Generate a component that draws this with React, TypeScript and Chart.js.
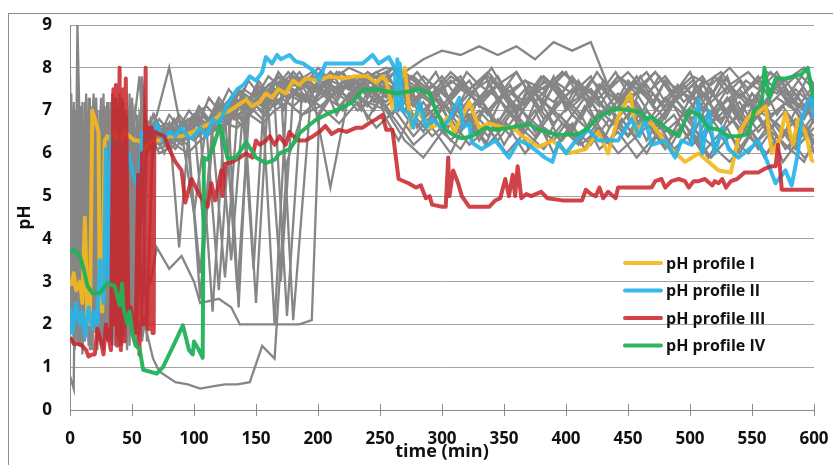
import React, { useEffect, useRef } from "react";
import { Chart, registerables } from "chart.js";

Chart.register(...registerables);

// ---------- time grids for the grey (individual) profiles ----------
const TE = [0, 3, 6, 9, 12, 15, 18, 21, 24, 27, 30, 33, 36, 39, 42, 45, 48, 52, 56, 60, 65, 70];
const TL = [80, 90, 100, 110, 120, 130, 140, 150, 160, 170, 180, 195, 210, 225, 240, 255, 270, 285, 300, 315, 330, 345, 360, 375, 390, 405, 420, 435, 450, 465, 480, 495, 510, 525, 540, 555, 570, 585, 600];
const TE2 = [1, 4, 7, 10, 13, 16, 19, 22, 25, 28, 31, 34, 37, 40, 43, 46, 50, 54, 58, 62, 67, 72];
const TL2 = [85, 95, 105, 115, 125, 135, 145, 155, 165, 175, 187, 202, 217, 232, 247, 262, 277, 292, 307, 322, 337, 352, 367, 382, 397, 412, 427, 442, 457, 472, 487, 502, 517, 532, 547, 562, 577, 592, 600];
const TL5 = [80, 90, 100, 105, 120, 130, 137, 150, 160, 170, 185, 195, 201, 215, 240, 255, 270, 285, 300, 315, 330, 345, 360, 375, 390, 405, 420, 435, 450, 465, 480, 495, 510, 525, 540, 555, 570, 585, 600];
const TM = [60, 68, 76, 84, 92, 100, 108, 116, 124, 132, 140, 148, 156, 164, 172, 180, 190, 200, 210, 220, 230, 240, 250, 260, 270, 280, 290, 300, 310, 320, 330, 340, 350, 360, 370, 380, 390, 400, 410, 420, 430, 440, 450, 460, 470, 480, 490, 500, 510, 520, 530, 540, 550, 560, 570, 580, 590, 600];
const TM2 = [64, 72, 80, 88, 96, 104, 112, 120, 128, 136, 144, 152, 160, 168, 176, 185, 195, 205, 215, 225, 235, 245, 255, 265, 275, 285, 295, 305, 315, 325, 335, 345, 355, 365, 375, 385, 395, 405, 415, 425, 435, 445, 455, 465, 475, 485, 495, 505, 515, 525, 535, 545, 555, 565, 575, 585, 595, 600];

const G1 = TE.concat(TL);
const G2 = TE2.concat(TL2);
const G5 = TE.concat(TL5);

// ---------- grey profiles (pH) ----------
const g1 = [7.8, 1.5, 6.5, 2.0, 7.2, 1.6, 6.8, 2.2, 7.0, 1.8, 6.6, 3.0, 7.3, 1.7, 6.9, 2.4, 7.1, 5.5, 6.6, 6.2, 6.8, 6.3,
  6.5, 6.2, 6.7, 6.5, 7.1, 6.9, 7.4, 7.2, 7.6, 7.4, 7.8, 7.5, 7.9, 7.6, 7.8, 7.3, 7.7, 7.0, 7.5, 7.8, 7.1, 7.6, 7.9, 7.2, 7.7, 7.4, 7.8, 7.0, 7.5, 7.9, 7.2, 7.6, 7.0, 7.7, 7.3, 7.8, 6.9, 7.5, 7.1];
const g2 = [6.2, 2.3, 7.1, 1.4, 6.4, 2.8, 7.3, 1.6, 5.8, 2.0, 7.0, 1.5, 6.7, 2.6, 7.2, 1.9, 6.5, 2.2, 7.6, 6.0, 6.4, 6.6,
  6.3, 6.6, 6.4, 6.9, 6.7, 7.2, 7.0, 7.5, 7.3, 7.7, 7.5, 7.9, 7.4, 7.8, 7.6, 7.9, 7.2, 7.6, 6.9, 7.4, 7.7, 7.0, 7.5, 6.8, 7.3, 7.6, 6.9, 7.4, 7.1, 6.6, 7.3, 6.8, 7.5, 6.7, 7.2, 6.5, 7.0, 6.4, 6.8];
const g3 = [0.8, 0.5, 9.0, 5.0, 6.2, 1.9, 7.0, 2.5, 6.3, 1.4, 7.2, 2.1, 6.8, 1.6, 5.9, 2.8, 7.4, 1.8, 6.9, 6.4, 6.1, 6.5,
  6.6, 6.3, 6.8, 6.6, 7.0, 7.3, 7.1, 7.5, 7.2, 7.6, 7.9, 7.4, 7.7, 7.5, 7.9, 7.6, 7.3, 7.8, 7.4, 7.0, 7.6, 7.3, 6.8, 7.4, 7.7, 7.1, 7.5, 6.9, 7.7, 7.3, 6.8, 7.6, 7.1, 6.7, 7.4, 7.0, 7.6, 7.2, 6.9];
const g4 = [1.7, 1.5, 3.2, 1.6, 6.0, 1.8, 5.2, 1.4, 6.5, 2.6, 7.0, 1.6, 4.8, 1.5, 6.2, 1.7, 3.5, 1.6, 2.2, 1.8, 1.2, 0.9,
  0.65, 0.6, 0.5, 0.55, 0.6, 0.6, 0.65, 1.5, 1.2, 5.8, 6.9, 7.3, 7.6, 7.4, 7.8, 7.5, 7.1, 7.6, 7.3, 7.7, 7.0, 7.5, 7.2, 7.8, 7.4, 6.9, 7.6, 7.2, 7.8, 7.0, 7.5, 7.3, 6.9, 7.6, 7.1, 7.7, 7.3, 7.0, 7.4];
const g5 = [2.0, 6.8, 1.6, 7.1, 2.4, 6.5, 1.5, 7.3, 2.9, 6.0, 1.7, 7.1, 2.3, 6.6, 1.5, 7.0, 2.0, 6.3, 3.4, 2.7, 3.0, 3.8,
  3.3, 3.6, 3.0, 2.5, 2.6, 2.4, 2.0, 2.0, 2.0, 2.0, 2.0, 2.1, 6.9, 7.5, 7.7, 7.4, 7.0, 7.5, 7.2, 6.8, 7.3, 7.6, 7.0, 7.4, 6.7, 7.2, 7.5, 6.9, 7.3, 6.6, 7.1, 7.4, 6.8, 7.2, 6.5, 7.0, 6.7, 6.3, 6.9];
const g6 = [5.5, 1.9, 7.0, 2.2, 6.1, 1.5, 7.4, 2.6, 6.8, 1.7, 7.2, 3.4, 5.9, 1.8, 7.0, 2.3, 6.4, 2.0, 5.0, 6.3, 6.5, 6.2,
  6.4, 6.2, 3.2, 6.7, 6.9, 2.8, 7.2, 7.0, 7.4, 7.6, 7.3, 7.7, 7.5, 7.8, 7.4, 7.9, 7.6, 7.2, 7.7, 7.4, 6.9, 7.5, 7.1, 7.7, 7.3, 6.8, 7.6, 7.0, 7.4, 6.7, 7.2, 7.6, 6.9, 7.3, 6.6, 7.1, 7.5, 6.8, 7.2];
const g7 = [3.0, 7.2, 1.8, 6.6, 2.6, 7.0, 1.4, 6.2, 2.0, 7.4, 1.6, 6.9, 2.7, 7.1, 1.9, 6.3, 1.5, 6.8, 7.8, 6.1, 6.5, 6.9,
  8.0, 6.5, 4.6, 6.7, 7.1, 6.8, 7.3, 2.5, 7.5, 7.7, 7.4, 7.8, 7.5, 7.2, 7.7, 7.4, 7.9, 7.5, 7.1, 7.6, 7.3, 7.8, 7.0, 7.5, 7.2, 7.7, 7.4, 6.9, 7.3, 7.6, 7.0, 7.4, 7.8, 7.1, 7.5, 6.9, 7.3, 7.0, 7.6];
const g8 = [7.4, 2.8, 6.3, 1.3, 6.9, 2.1, 5.6, 1.7, 7.1, 2.4, 6.4, 1.6, 7.3, 2.0, 6.0, 1.4, 6.7, 2.5, 6.2, 1.6, 6.6, 6.3,
  6.5, 6.8, 6.6, 2.3, 7.0, 7.2, 7.0, 7.3, 2.0, 7.5, 7.8, 7.5, 7.9, 7.6, 7.8, 8.0, 7.7, 7.3, 7.8, 7.5, 7.9, 7.4, 7.7, 7.2, 7.9, 7.5, 7.1, 7.8, 7.4, 7.9, 7.3, 7.7, 7.2, 7.6, 7.9, 7.4, 7.7, 7.1, 7.5];
const g9 = [4.5, 7.0, 2.2, 6.8, 1.9, 7.3, 2.5, 6.4, 1.6, 6.9, 2.1, 7.2, 1.8, 6.5, 3.2, 7.0, 2.3, 6.6, 6.2, 6.7, 6.3, 6.6,
  6.7, 6.4, 6.9, 7.1, 6.8, 7.2, 7.5, 7.3, 7.6, 7.8, 7.6, 7.9, 7.7, 8.0, 7.8, 8.0, 7.9, 8.2, 8.4, 8.3, 8.5, 8.3, 8.5, 8.2, 8.6, 8.4, 8.6, 7.5, 7.9, 7.4, 7.8, 7.2, 7.6, 7.9, 7.3, 7.7, 7.4, 7.8, 7.2];
const g10 = [2.5, 6.0, 1.6, 7.2, 1.9, 6.6, 2.7, 7.0, 1.5, 6.2, 2.2, 7.4, 1.7, 6.8, 2.4, 5.3, 1.8, 6.9, 2.0, 6.5, 6.2, 6.4,
  6.1, 6.6, 2.6, 6.4, 3.1, 6.9, 7.1, 6.8, 7.2, 2.2, 7.4, 7.1, 7.5, 7.0, 7.3, 6.8, 6.2, 6.6, 6.0, 6.9, 6.4, 7.0, 6.5, 7.2, 6.7, 6.3, 7.0, 6.6, 7.2, 6.5, 6.9, 6.2, 6.7, 7.1, 6.4, 6.8, 6.1, 6.6, 6.3];
const g11 = [6.0, 2.0, 7.3, 1.5, 6.7, 2.3, 7.0, 1.8, 6.4, 2.9, 7.2, 1.6, 6.1, 2.2, 7.3, 1.9, 6.8, 2.6, 6.4, 6.8, 6.2, 6.5,
  6.3, 6.7, 6.5, 6.6, 6.9, 3.5, 7.2, 7.4, 7.2, 7.6, 2.1, 7.6, 7.3, 7.8, 7.5, 7.1, 7.5, 6.8, 7.2, 6.6, 7.0, 6.5, 7.1, 6.7, 6.3, 6.9, 6.5, 7.1, 6.4, 6.8, 6.2, 6.7, 6.0, 6.5, 6.9, 6.3, 6.7, 6.1, 6.6];
const g12 = [7.0, 1.6, 6.2, 2.5, 7.4, 1.4, 6.8, 2.0, 7.1, 2.7, 6.0, 1.9, 7.2, 2.2, 6.5, 1.6, 7.0, 2.8, 6.6, 6.4, 6.9, 6.5,
  6.7, 6.3, 6.5, 6.8, 7.0, 6.8, 7.3, 7.1, 7.5, 7.3, 7.6, 7.4, 7.1, 7.6, 7.2, 7.5, 6.9, 6.4, 6.8, 6.2, 6.6, 6.0, 6.5, 6.1, 6.7, 6.2, 6.6, 6.0, 6.4, 6.8, 6.1, 6.5, 5.9, 6.4, 6.0, 6.6, 6.2, 5.8, 6.3];
const g13 = [1.8, 6.4, 2.4, 7.0, 1.6, 6.8, 2.1, 7.3, 1.7, 6.5, 2.5, 6.9, 1.5, 7.0, 2.0, 6.2, 2.9, 7.0, 6.5, 6.2, 6.4, 6.1,
  6.2, 6.5, 6.3, 6.6, 2.8, 7.0, 6.8, 7.2, 7.0, 7.3, 7.1, 7.5, 5.2, 7.4, 7.2, 7.0, 6.3, 5.9, 6.5, 6.1, 6.8, 6.3, 6.9, 6.4, 7.0, 6.6, 6.2, 6.8, 6.4, 7.0, 6.5, 6.9, 6.3, 7.1, 6.6, 6.9, 6.2, 6.8, 6.4];
const g14 = [6.8, 2.2, 7.1, 1.7, 6.5, 2.4, 5.9, 1.5, 7.3, 2.0, 6.7, 2.6, 7.0, 1.6, 6.3, 2.2, 7.3, 1.9, 7.8, 6.5, 6.0, 6.4,
  6.6, 6.4, 6.8, 6.5, 6.9, 7.1, 6.9, 7.3, 7.1, 7.4, 7.2, 7.6, 7.8, 7.5, 7.9, 7.6, 7.8, 7.4, 7.9, 7.5, 7.8, 7.3, 7.7, 7.5, 7.9, 7.6, 7.3, 7.8, 7.5, 7.9, 7.4, 7.8, 7.6, 8.0, 7.5, 7.9, 7.7, 8.0, 7.6];
const g15 = [7.2, 1.9, 6.9, 2.7, 6.3, 1.5, 7.1, 2.3, 6.6, 1.8, 7.0, 2.0, 6.4, 1.7, 7.2, 2.6, 6.1, 1.6, 6.4, 6.8, 6.7, 6.3,
  6.4, 6.6, 6.9, 6.7, 7.1, 6.9, 6.6, 7.3, 7.0, 3.0, 7.4, 7.2, 7.6, 7.3, 7.5, 7.2, 7.7, 7.3, 7.0, 7.5, 7.2, 7.6, 7.1, 7.4, 7.0, 7.5, 7.2, 6.6, 7.1, 6.7, 7.3, 6.9, 7.4, 6.8, 7.2, 6.5, 7.0, 7.4, 6.8];
const g16 = [2.0, 7.0, 1.5, 6.3, 2.2, 7.3, 1.8, 6.7, 2.5, 7.1, 1.6, 6.6, 2.0, 7.4, 1.7, 6.9, 2.3, 6.3, 1.6, 2.4, 6.3, 6.0,
  6.2, 6.0, 6.3, 6.5, 6.7, 6.6, 6.9, 6.7, 7.0, 7.2, 6.9, 7.1, 6.7, 7.2, 6.6, 7.0, 6.4, 6.9, 6.3, 6.8, 6.2, 6.7, 6.0, 6.6, 6.3, 6.9, 6.1, 6.5, 5.9, 6.4, 6.0, 6.6, 6.2, 5.8, 6.4, 6.0, 6.5, 5.9, 6.1];
const g17 = [6.8, 6.3, 6.6, 6.2, 6.7, 6.4, 6.9, 6.6, 7.1, 6.8, 7.3, 7.0, 7.5, 7.2, 7.6, 7.4,
  7.8, 7.4, 7.9, 7.5, 7.7, 7.3, 7.8, 7.4, 7.0, 7.6, 7.2, 7.7, 6.9, 7.5, 7.1, 7.8, 7.3, 6.9, 7.6, 7.2, 7.8, 7.0, 7.5, 7.1, 7.7, 7.3, 6.8, 7.5, 7.1, 7.7, 7.2, 6.9, 7.6, 7.3, 7.8, 7.0, 7.4, 7.1, 7.7, 7.2, 6.8, 7.3];
const g18 = [6.1, 6.5, 6.3, 6.8, 6.5, 7.0, 6.7, 7.2, 6.9, 7.4, 7.1, 7.6, 7.3, 7.8, 7.5,
  7.7, 7.2, 7.6, 6.9, 7.4, 7.0, 7.6, 6.8, 6.3, 6.9, 6.5, 7.0, 6.6, 7.2, 6.7, 6.2, 6.8, 6.4, 7.0, 6.5, 6.9, 6.3, 6.7, 6.1, 6.6, 6.2, 6.8, 6.4, 6.0, 6.5, 6.2, 6.7, 6.3, 5.9, 6.4, 6.0, 6.6, 6.1, 6.5, 5.8, 6.2, 6.6, 6.0];
const g19 = [6.5, 6.9, 6.4, 6.8, 6.3, 6.9, 6.6, 7.0, 6.8, 7.3, 7.0, 7.4, 7.2, 7.7, 7.4, 7.9,
  7.6, 8.0, 7.7, 7.9, 7.5, 7.8, 7.6, 8.0, 7.6, 7.9, 7.5, 7.8, 7.4, 7.9, 7.6, 8.0, 7.5, 7.9, 7.4, 7.8, 7.6, 7.9, 7.3, 7.7, 7.5, 7.9, 7.4, 7.8, 7.2, 7.7, 7.5, 7.9, 7.3, 7.8, 7.4, 7.7, 7.2, 7.6, 7.9, 7.4, 7.8, 7.5];
const g20 = [6.6, 6.2, 6.7, 3.8, 6.6, 6.9, 6.5, 7.1, 6.8, 2.4, 7.2, 7.5, 7.1, 7.6, 7.3,
  7.5, 7.1, 7.6, 7.2, 7.7, 7.3, 7.0, 7.5, 7.1, 6.7, 7.2, 6.8, 7.3, 6.9, 6.5, 7.1, 6.7, 7.2, 6.6, 7.0, 6.4, 6.9, 6.5, 7.1, 6.7, 6.3, 6.8, 6.4, 7.0, 6.6, 7.2, 6.7, 6.3, 6.9, 6.5, 7.1, 6.6, 7.3, 6.8, 6.4, 7.0, 6.5, 6.8];
const g21 = [6.3, 6.7, 6.2, 6.6, 6.4, 6.8, 6.5, 6.9, 6.7, 7.0, 6.8, 7.2, 6.9, 7.3, 7.1, 7.4,
  7.2, 7.6, 7.3, 7.7, 7.4, 7.1, 7.6, 7.3, 7.8, 7.2, 6.6, 7.1, 6.5, 6.9, 6.3, 6.8, 6.2, 6.7, 6.1, 6.6, 6.0, 6.5, 6.2, 6.8, 6.3, 6.9, 6.4, 7.0, 6.5, 6.1, 6.7, 6.3, 6.9, 6.2, 6.6, 6.0, 6.5, 5.9, 6.4, 6.1, 6.7, 6.2];
const g22 = [6.4, 6.8, 6.5, 6.9, 6.6, 7.1, 6.8, 7.3, 7.0, 7.5, 7.2, 7.7, 7.4, 7.9, 7.6,
  7.9, 7.5, 7.8, 7.3, 7.7, 7.2, 7.6, 7.9, 7.4, 7.8, 7.5, 7.9, 7.3, 7.7, 7.4, 7.8, 7.2, 7.6, 7.0, 7.5, 7.7, 7.3, 7.8, 7.4, 7.9, 7.5, 7.2, 7.7, 7.3, 7.8, 7.4, 7.0, 7.6, 7.2, 7.8, 7.3, 7.7, 7.5, 7.9, 7.6, 7.2, 7.8, 7.5];
const g23 = [6.2, 6.6, 6.0, 6.5, 6.3, 6.7, 4.2, 6.8, 6.6, 7.0, 6.7, 3.3, 7.1, 7.4, 7.0, 7.5,
  7.3, 6.9, 7.4, 7.0, 7.5, 6.8, 7.3, 6.9, 7.4, 6.6, 7.0, 6.5, 7.1, 6.7, 7.3, 6.8, 7.4, 6.9, 7.5, 7.0, 7.6, 7.1, 7.7, 7.2, 7.6, 7.0, 7.5, 6.9, 7.4, 7.1, 7.6, 7.2, 7.7, 6.9, 7.3, 6.8, 7.4, 7.0, 7.6, 7.1, 7.5, 7.0];
const g24 = [6.7, 6.4, 6.9, 6.6, 7.0, 6.7, 7.3, 7.0, 7.5, 7.2, 7.7, 7.4, 7.8, 7.6, 7.9,
  7.6, 7.8, 7.4, 7.9, 7.5, 7.8, 7.2, 7.6, 7.0, 7.4, 6.9, 7.3, 6.8, 7.2, 6.7, 7.1, 6.6, 7.0, 6.5, 7.2, 6.8, 7.4, 6.9, 7.3, 6.7, 7.1, 6.5, 6.9, 6.3, 6.8, 6.4, 7.0, 6.6, 7.2, 6.7, 7.3, 6.8, 7.4, 6.9, 7.1, 6.6, 7.0, 6.7];

const GREY = [
  { t: G1, v: g1 }, { t: G2, v: g2 }, { t: G1, v: g3 }, { t: G2, v: g4 },
  { t: G5, v: g5 }, { t: G2, v: g6 }, { t: G1, v: g7 }, { t: G2, v: g8 },
  { t: G1, v: g9 }, { t: G2, v: g10 }, { t: G1, v: g11 }, { t: G2, v: g12 },
  { t: G1, v: g13 }, { t: G2, v: g14 }, { t: G1, v: g15 }, { t: G2, v: g16 },
  { t: TM, v: g17 }, { t: TM2, v: g18 }, { t: TM, v: g19 }, { t: TM2, v: g20 },
  { t: TM, v: g21 }, { t: TM2, v: g22 }, { t: TM, v: g23 }, { t: TM2, v: g24 },
];

// ---------- highlighted profiles ----------
const yT = [1, 3, 5, 8, 10, 12, 14, 16, 18, 21, 23, 24, 26, 28, 30, 33, 36, 40, 44, 48, 52, 56, 60, 65, 72, 80, 90, 99, 106, 113, 121, 129, 134, 142, 147, 153, 158, 163, 168, 174, 180, 185, 190, 200, 209, 220, 230, 240, 247, 252, 255, 260, 265, 270, 275, 280, 290, 300, 305, 310, 322, 330, 338, 350, 357, 365, 378, 389, 402, 416, 426, 434, 442, 452, 456, 462, 469, 483, 496, 507, 515, 523, 533, 540, 547, 555, 561, 566, 572, 577, 583, 587, 593, 598, 600];
const yV = [2.9, 3.2, 2.8, 3.0, 2.5, 4.5, 2.2, 2.0, 7.0, 6.7, 6.5, 2.5, 2.3, 6.3, 6.4, 6.3, 6.5, 6.2, 6.5, 6.4, 6.3, 6.3, 6.1, 6.3, 6.3, 6.4, 6.4, 6.5, 6.6, 6.7, 6.9, 7.0, 7.1, 7.25, 7.1, 7.2, 7.4, 7.3, 7.5, 7.4, 7.7, 7.6, 7.75, 7.7, 7.8, 7.75, 7.8, 7.8, 7.65, 7.8, 7.7, 7.05, 7.6, 8.0, 6.6, 7.0, 6.6, 6.7, 6.85, 6.5, 7.2, 6.6, 6.7, 6.6, 6.6, 6.4, 6.15, 6.3, 6.0, 6.1, 6.5, 6.0, 6.85, 7.4, 6.5, 6.7, 6.7, 6.15, 5.8, 6.0, 5.8, 5.6, 5.55, 6.5, 6.85, 6.95, 7.1, 6.0, 6.3, 6.95, 6.2, 6.8, 6.5, 5.85, 5.8];

const bT = [0, 2, 5, 8, 10, 12, 15, 18, 20, 22, 24, 27, 29, 31, 33, 36, 40, 44, 47, 51, 55, 56, 58, 62, 66, 70, 75, 80, 85, 90, 96, 100, 105, 110, 115, 120, 125, 130, 135, 140, 145, 150, 155, 158, 163, 167, 170, 177, 182, 188, 198, 201, 206, 217, 236, 244, 249, 257, 262, 263, 264, 265, 266, 268, 273, 277, 282, 287, 292, 300, 306, 314, 317, 322, 324, 332, 343, 354, 362, 370, 383, 389, 394, 400, 408, 418, 426, 434, 442, 453, 459, 464, 469, 480, 488, 493, 501, 507, 510, 515, 520, 526, 531, 539, 550, 555, 561, 569, 577, 582, 587, 590, 595, 598, 600];
const bV = [2.4, 1.8, 2.5, 2.0, 2.3, 1.7, 2.4, 1.9, 2.3, 2.0, 3.5, 2.5, 6.1, 3.0, 6.4, 6.2, 6.3, 6.0, 6.0, 5.5, 5.2, 5.2, 6.5, 6.3, 6.4, 6.7, 6.3, 6.5, 6.4, 6.6, 6.35, 6.4, 6.6, 6.4, 6.8, 6.7, 7.0, 7.3, 7.5, 7.6, 7.8, 7.7, 7.9, 8.25, 8.1, 8.3, 8.2, 8.3, 8.15, 8.1, 7.9, 7.7, 8.1, 8.1, 8.1, 8.3, 8.1, 8.25, 8.0, 7.0, 8.2, 7.1, 8.1, 7.0, 6.95, 6.6, 7.2, 6.6, 6.8, 6.6, 6.8, 7.3, 6.6, 6.7, 6.25, 6.1, 6.3, 5.9, 6.3, 6.2, 5.9, 5.8, 6.25, 6.0, 6.3, 6.55, 6.3, 6.3, 6.3, 6.8, 6.4, 6.8, 6.2, 6.3, 5.9, 6.3, 6.2, 7.25, 6.0, 7.0, 6.0, 6.6, 6.1, 5.9, 6.15, 6.3, 5.9, 5.3, 5.6, 5.25, 6.0, 6.8, 7.2, 7.3, 6.8];

const rT = [0, 3, 6, 10, 13, 15, 18, 20, 22, 25, 27, 29, 31, 33, 35, 36, 37, 38, 40, 41, 43, 44, 45, 47, 49, 51, 53, 55, 56, 58, 59, 61, 61.5, 62, 62.5, 63, 63.5, 64, 64.5, 65, 65.5, 66, 66.5, 67, 67.5, 68, 72, 76, 80, 85, 90, 93, 98, 105, 111, 114, 117, 122, 123, 125, 131, 137, 142, 147, 150, 153, 158, 161, 165, 169, 174, 177, 180, 185, 190, 196, 201, 206, 211, 217, 223, 231, 236, 241, 247, 252, 255, 260, 265, 273, 279, 283, 287, 290, 292, 300, 303, 305, 306, 309, 313, 316, 322, 338, 343, 347, 351, 354, 357, 359, 361, 364, 368, 372, 380, 385, 397, 413, 416, 420, 424, 427, 430, 434, 440, 442, 469, 472, 477, 480, 485, 491, 496, 499, 503, 507, 512, 518, 520, 523, 526, 529, 533, 538, 544, 555, 561, 566, 569, 571, 574, 600];
const rV = [1.7, 1.55, 1.55, 1.5, 1.4, 1.25, 1.3, 1.3, 1.9, 1.6, 1.3, 2.0, 1.7, 1.4, 7.5, 2.0, 7.6, 1.5, 8.0, 1.4, 7.5, 1.6, 7.75, 2.3, 2.4, 2.0, 1.8, 5.5, 1.3, 6.0, 2.0, 8.0, 2.0, 6.6, 1.9, 6.5, 2.0, 6.6, 1.9, 6.5, 2.0, 6.6, 1.8, 6.5, 1.8, 6.5, 6.45, 6.4, 6.1, 5.8, 5.6, 4.85, 5.4, 5.0, 4.75, 5.3, 4.9, 5.6, 5.0, 5.75, 5.8, 5.9, 6.0, 5.9, 6.3, 6.2, 6.3, 6.4, 6.2, 6.4, 6.2, 6.5, 6.4, 6.3, 6.3, 6.4, 6.5, 6.64, 6.45, 6.55, 6.5, 6.6, 6.6, 6.7, 6.8, 6.9, 6.55, 6.55, 5.4, 5.3, 5.2, 5.25, 4.95, 5.0, 4.8, 4.75, 4.75, 5.9, 5.0, 5.6, 5.3, 5.0, 4.75, 4.75, 4.9, 4.95, 5.4, 5.0, 5.5, 5.0, 5.7, 4.95, 5.05, 5.0, 5.1, 4.95, 4.9, 4.9, 5.15, 5.05, 5.0, 5.2, 4.95, 5.1, 4.95, 5.2, 5.2, 5.35, 5.4, 5.2, 5.35, 5.4, 5.35, 5.2, 5.35, 5.35, 5.4, 5.25, 5.35, 5.3, 5.4, 5.2, 5.35, 5.4, 5.55, 5.55, 5.65, 5.7, 5.7, 6.2, 5.15, 5.15];

const gT = [1, 3, 8, 11, 14, 18, 24, 30, 36, 40, 42, 43, 46, 48, 51, 53, 56, 59, 64, 70, 75, 83, 91, 96, 99, 100, 104, 107, 108, 111, 115, 121, 124, 127, 134, 142, 150, 158, 165, 169, 177, 182, 185, 198, 209, 220, 228, 236, 247, 255, 263, 274, 281, 290, 295, 303, 311, 316, 324, 335, 343, 354, 365, 370, 378, 394, 410, 418, 426, 440, 453, 461, 464, 469, 480, 491, 499, 507, 515, 523, 531, 539, 547, 552, 558, 560, 564, 569, 577, 584, 590, 595, 598, 600];
const gV = [3.67, 3.75, 3.6, 3.3, 2.9, 2.73, 2.73, 2.96, 2.9, 2.45, 2.95, 2.4, 2.03, 2.3, 1.7, 1.5, 1.45, 0.94, 0.9, 0.85, 1.0, 1.48, 1.98, 1.4, 1.3, 1.6, 1.4, 1.22, 5.9, 5.85, 6.1, 6.66, 6.3, 5.88, 5.9, 6.27, 5.9, 5.77, 5.85, 6.0, 6.1, 6.3, 6.47, 6.78, 6.94, 7.08, 7.2, 7.48, 7.5, 7.45, 7.4, 7.45, 7.5, 7.4, 7.0, 6.55, 6.4, 6.35, 6.4, 6.6, 6.55, 6.6, 6.65, 6.7, 6.55, 6.43, 6.45, 6.6, 6.85, 7.05, 7.0, 6.95, 6.8, 6.85, 6.6, 6.4, 7.0, 6.9, 6.6, 6.55, 6.4, 6.4, 6.45, 7.0, 7.2, 8.0, 7.3, 7.75, 7.75, 7.8, 7.85, 8.0, 7.5, 7.3];

const PROFILES = [
  { label: "pH profile I", t: yT, v: yV, color: "rgba(244,185,30,0.92)", order: 4 },
  { label: "pH profile II", t: bT, v: bV, color: "rgba(40,180,232,0.92)", order: 3 },
  { label: "pH profile III", t: rT, v: rV, color: "rgba(200,34,40,0.85)", order: 2 },
  { label: "pH profile IV", t: gT, v: gV, color: "rgba(34,178,88,0.95)", order: 1 },
];

const X_TICKS_STEP = 50;
const Y_TICKS_STEP = 1;

const toPoints = (t: number[], v: number[]) => t.map((x, i) => ({ x, y: v[i] }));

const legendPlugin = {
  id: "insideLegend",
  afterDraw(chart: any) {
    const { ctx, chartArea } = chart;
    const items = chart.data.datasets.filter((d: any) => d.inLegend);
    ctx.save();
    ctx.font = "bold 16px 'Open Sans', sans-serif";
    ctx.textBaseline = "middle";
    ctx.textAlign = "left";
    items.forEach((d: any, i: number) => {
      const y = chartArea.top + 238 + i * 27.5;
      const x0 = chartArea.left + 555;
      ctx.strokeStyle = d.borderColor;
      ctx.lineWidth = 4;
      ctx.lineCap = "round";
      ctx.beginPath();
      ctx.moveTo(x0, y);
      ctx.lineTo(x0 + 36, y);
      ctx.stroke();
      ctx.fillStyle = "#111";
      ctx.fillText(d.label, x0 + 41, y + 1);
    });
    ctx.restore();
  },
};

const tickMarkPlugin = {
  id: "xTickMarks",
  afterDraw(chart: any) {
    const { ctx, chartArea } = chart;
    const xs = chart.scales.x;
    ctx.save();
    ctx.strokeStyle = "#8c8c8c";
    ctx.lineWidth = 1;
    xs.ticks.forEach((tk: any) => {
      const px = Math.round(xs.getPixelForValue(tk.value)) + 0.5;
      ctx.beginPath();
      ctx.moveTo(px, chartArea.bottom - 6);
      ctx.lineTo(px, chartArea.bottom + 6);
      ctx.stroke();
    });
    ctx.restore();
  },
};

export default function App() {
  const ref = useRef<HTMLCanvasElement | null>(null);
  useEffect(() => {
    if (!ref.current) return;
    const datasets: any[] = [];
    GREY.forEach((s) => {
      datasets.push({
        label: "",
        data: toPoints(s.t, s.v),
        borderColor: "#868686",
        borderWidth: 2.3,
        pointRadius: 0,
        tension: 0,
        order: 10,
        inLegend: false,
      });
    });
    PROFILES.forEach((p) => {
      datasets.push({
        label: p.label,
        data: toPoints(p.t, p.v),
        borderColor: p.color,
        borderWidth: 4,
        pointRadius: 0,
        tension: 0,
        order: p.order,
        borderJoinStyle: "round",
        inLegend: true,
      });
    });
    const chart = new Chart(ref.current, {
      type: "line",
      data: { datasets },
      plugins: [legendPlugin, tickMarkPlugin],
      options: {
        animation: false,
        responsive: false,
        events: [],
        layout: { padding: { top: 11, right: 19, left: 0, bottom: 0 } },
        plugins: { legend: { display: false }, tooltip: { enabled: false } },
        scales: {
          x: {
            type: "linear",
            min: 0,
            max: 600,
            afterFit: (s: any) => { s.height = 55; },
            ticks: {
              stepSize: X_TICKS_STEP,
              color: "#111",
              padding: 0,
              maxRotation: 0,
              font: { family: "'Open Sans', sans-serif", size: 17, weight: "bold" },
            },
            grid: { drawOnChartArea: false, drawTicks: true, tickLength: 19, tickColor: "rgba(0,0,0,0)" },
            border: { color: "#8c8c8c" },
            title: {
              display: true,
              text: "time (min)",
              color: "#111",
              padding: { top: 0, bottom: 2 },
              font: { family: "'Open Sans', sans-serif", size: 18, weight: "bold" },
            },
          },
          y: {
            min: 0,
            max: 9,
            afterFit: (s: any) => { s.width = 61; },
            ticks: {
              stepSize: Y_TICKS_STEP,
              color: "#111",
              padding: 0,
              font: { family: "'Open Sans', sans-serif", size: 17, weight: "bold" },
            },
            grid: { color: "#a3a3a3", drawTicks: true, tickLength: 18, tickColor: "rgba(0,0,0,0)" },
            border: { color: "#8c8c8c" },
            title: {
              display: true,
              text: "pH",
              color: "#111",
              padding: { top: 6, bottom: 0 },
              font: { family: "'Open Sans', sans-serif", size: 17, weight: "bold" },
            },
          },
        },
      } as any,
    });
    return () => chart.destroy();
  }, []);

  return (
    <div
      style={{
        position: "fixed",
        left: 8,
        top: 13,
        width: 840,
        height: 470,
        border: "1px solid #8c8c8c",
        background: "#fff",
      }}
    >
      <canvas ref={ref} width={824} height={451} style={{ display: "block", width: 824, height: 451 }} />
    </div>
  );
}
